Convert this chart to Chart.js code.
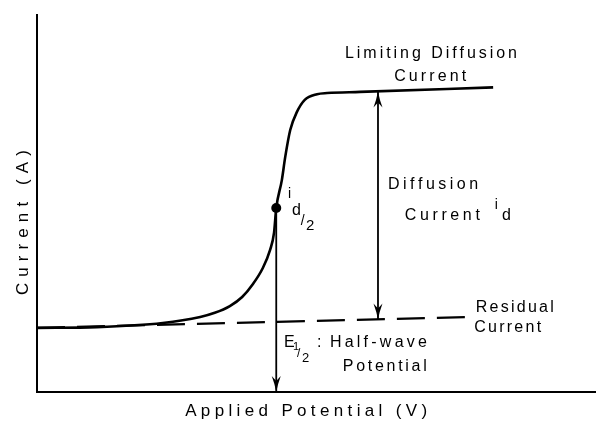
<!DOCTYPE html>
<html>
<head>
<meta charset="utf-8">
<script src="https://cdn.jsdelivr.net/npm/chart.js@4.4.1/dist/chart.umd.min.js"></script>
<style>
  html, body { margin: 0; padding: 0; background: #fff; }
  #wrap { width: 596px; height: 421px; }
</style>
</head>
<body>
<div id="wrap"><canvas id="polarogram" width="596" height="421"></canvas></div>
<script>
// polarogram, arbitrary units (both axes 0-100)
const potential = [0, 10.7, 22.5, 29.2, 31.8, 34.5, 36.7, 38.6, 40.4, 41.7, 42.4, 42.8, 43.8, 44.4, 45.3, 46.5, 47.9, 50.1, 51.9, 57.8, 81.6];
const current = [17.0, 17.2, 18.3, 19.9, 21.0, 22.8, 25.2, 28.6, 32.9, 37.7, 42.2, 48.8, 56.2, 62.3, 69.5, 74.3, 77.5, 79.0, 79.3, 79.6, 80.8];

// residual current baseline (dashed)
const residualX = [0, 77.5];
const residualY = [17.0, 19.9];

// half-wave point and its drop line to the potential axis
const halfWaveX = [42.8, 42.8];
const halfWaveY = [48.8, 0];

// diffusion current i_d, between residual and limiting current
const diffusionX = [61.0, 61.0];
const diffusionY = [79.7, 19.2];

const FONT = '"Liberation Sans", Arial, sans-serif';

// text on the figure: left x, baseline y (data units), size, ink width in px
const notes = [
  { text: 'Limiting Diffusion', x: 55.1, y: 88.5, size: 16, width: 172 },
  { text: 'Current', x: 63.9, y: 82.4, size: 16, width: 72 },
  { text: 'Diffusion', x: 62.8, y: 53.8, size: 16, width: 90 },
  { text: 'Current', x: 65.8, y: 45.6, size: 16, width: 75 },
  { text: 'i', x: 81.9, y: 48.5, size: 14 },
  { text: 'd', x: 83.2, y: 45.6, size: 16 },
  { text: 'i', x: 44.9, y: 51.5, size: 14 },
  { text: 'd', x: 45.6, y: 46.9, size: 16 },
  { text: '/', x: 47.2, y: 44.3, size: 14 },
  { text: '2', x: 48.1, y: 43.0, size: 15 },
  { text: 'Residual', x: 78.5, y: 21.2, size: 16, width: 78 },
  { text: 'Current', x: 78.2, y: 15.9, size: 16, width: 67 },
  { text: 'E', x: 44.2, y: 11.9, size: 16 },
  { text: '1', x: 45.8, y: 11.1, size: 11 },
  { text: '/', x: 46.5, y: 9.3, size: 12 },
  { text: '2', x: 47.4, y: 8.0, size: 13 },
  { text: ':', x: 50.1, y: 11.9, size: 16 },
  { text: 'Half-wave', x: 52.4, y: 11.9, size: 16, width: 97 },
  { text: 'Potential', x: 54.7, y: 5.6, size: 16, width: 84 },
  { text: 'Applied Potential (V)', x: 26.5, y: -6.3, size: 17, width: 242 },
  { text: 'Current (A)', x: -1.6, y: 25.7, size: 17, width: 145, rotate: true }
];

function drawSpaced(ctx, text, x, y, width) {
  const chars = [...text];
  const widths = chars.map(c => ctx.measureText(c).width);
  const natural = widths.reduce((a, b) => a + b, 0);
  const gap = chars.length > 1 && width ? (width - natural) / (chars.length - 1) : 0;
  let cx = x;
  chars.forEach((c, i) => {
    ctx.fillText(c, cx, y);
    cx += widths[i] + gap;
  });
}

const notesPlugin = {
  id: 'notes',
  afterDraw(chart) {
    const { ctx, scales } = chart;
    ctx.save();
    ctx.fillStyle = '#000';
    ctx.textBaseline = 'alphabetic';
    ctx.textAlign = 'left';
    notes.forEach(n => {
      const px = scales.x.getPixelForValue(n.x);
      const py = scales.y.getPixelForValue(n.y);
      ctx.font = n.size + 'px ' + FONT;
      if (n.rotate) {
        ctx.save();
        ctx.translate(px, py);
        ctx.rotate(-Math.PI / 2);
        drawSpaced(ctx, n.text, 0, 0, n.width);
        ctx.restore();
      } else {
        drawSpaced(ctx, n.text, px, py, n.width);
      }
    });
    ctx.restore();
  }
};

// arrowheads at the ends of datasets that ask for them
function arrowHead(ctx, tipX, tipY, fromX, fromY) {
  const ang = Math.atan2(tipY - fromY, tipX - fromX);
  ctx.save();
  ctx.translate(tipX, tipY);
  ctx.rotate(ang);
  ctx.beginPath();
  ctx.moveTo(0, 0);
  ctx.quadraticCurveTo(-8, -1.5, -16, -4.5);
  ctx.lineTo(-11, 0);
  ctx.lineTo(-16, 4.5);
  ctx.quadraticCurveTo(-8, 1.5, 0, 0);
  ctx.closePath();
  ctx.fillStyle = '#000';
  ctx.fill();
  ctx.restore();
}

const arrowPlugin = {
  id: 'arrows',
  afterDatasetsDraw(chart) {
    const ctx = chart.ctx;
    chart.data.datasets.forEach((ds, i) => {
      if (!ds.arrows) return;
      const pts = chart.getDatasetMeta(i).data;
      if (ds.arrows.includes('start')) arrowHead(ctx, pts[0].x, pts[0].y, pts[1].x, pts[1].y);
      if (ds.arrows.includes('end')) {
        const n = pts.length;
        arrowHead(ctx, pts[n - 1].x, pts[n - 1].y, pts[n - 2].x, pts[n - 2].y);
      }
    });
  }
};

const toXY = (xs, ys) => xs.map((x, i) => ({ x: x, y: ys[i] }));

const hiddenAxis = (min, max) => ({
  type: 'linear',
  min: min,
  max: max,
  grid: { display: false, drawTicks: false, tickLength: 0 },
  ticks: { display: false },
  border: { display: true, color: '#000', width: 2 }
});

new Chart(document.getElementById('polarogram').getContext('2d'), {
  type: 'scatter',
  data: {
    datasets: [
      {
        label: 'Half-wave point',
        data: toXY(halfWaveX.slice(0, 1), halfWaveY.slice(0, 1)),
        pointRadius: 5,
        pointBackgroundColor: '#000',
        pointBorderColor: '#000',
        pointBorderWidth: 0
      },
      {
        label: 'Polarogram',
        data: toXY(potential, current),
        showLine: true,
        cubicInterpolationMode: 'monotone',
        borderColor: '#000',
        borderWidth: 2.6,
        pointRadius: 0
      },
      {
        label: 'Residual current',
        data: toXY(residualX, residualY),
        showLine: true,
        borderColor: '#000',
        borderWidth: 2.2,
        borderDash: [28, 12],
        pointRadius: 0
      },
      {
        label: 'E1/2',
        data: toXY(halfWaveX, halfWaveY),
        showLine: true,
        borderColor: '#000',
        borderWidth: 1.8,
        pointRadius: 0,
        arrows: ['end'],
        clip: false
      },
      {
        label: 'i_d',
        data: toXY(diffusionX, diffusionY),
        showLine: true,
        borderColor: '#000',
        borderWidth: 1.8,
        pointRadius: 0,
        arrows: ['start', 'end'],
        clip: false
      }
    ]
  },
  options: {
    responsive: false,
    animation: false,
    devicePixelRatio: 1,
    layout: { autoPadding: false, padding: { left: 37, top: 15, right: 0, bottom: 29 } },
    plugins: {
      legend: { display: false },
      tooltip: { enabled: false }
    },
    scales: {
      x: hiddenAxis(0, 100),
      y: hiddenAxis(0, 100)
    }
  },
  plugins: [arrowPlugin, notesPlugin]
});
</script>
</body>
</html>
